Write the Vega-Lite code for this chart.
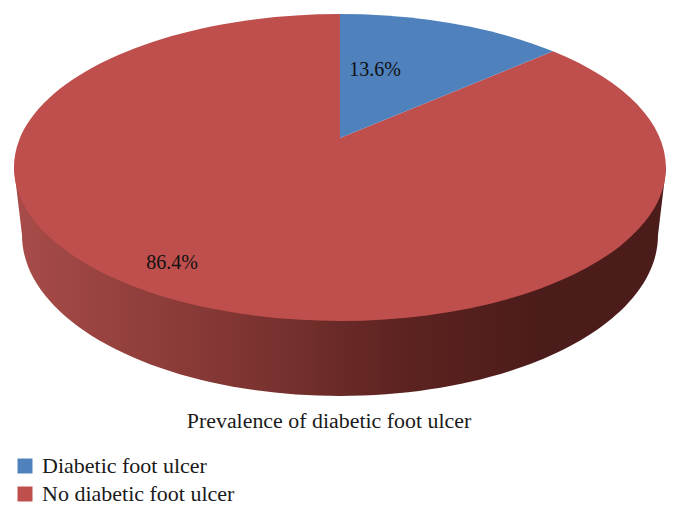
{
"$schema":"https://vega.github.io/schema/vega-lite/v6.json",
"width":680,"height":515,"padding":0,"autosize":{"type":"none"},"background":"white",
"title":{"text":"Prevalence of diabetic foot ulcer","orient":"bottom","anchor":"middle","offset":-104,"dx":-11,"font":"Liberation Serif","fontSize":21.9,"fontWeight":"normal","color":"#1a1a1a"},
"data":{"values":[{"category":"Diabetic foot ulcer","share":0.136},{"category":"No diabetic foot ulcer","share":0.864}]},
"config":{"view":{"stroke":null}},
"layer":[
{"mark":{"type":"point","filled":true,"opacity":1,"size":0,"shape":"square"},
 "encoding":{"color":{"field":"category","type":"nominal","scale":{"domain":["Diabetic foot ulcer","No diabetic foot ulcer"],"range":["#4f81bd","#be4f4d"]},
   "legend":{"orient":"none","legendX":14,"legendY":455,"title":null,"symbolType":"square","symbolSize":225,"labelFont":"Liberation Serif","labelFontSize":22,"labelColor":"#1a1a1a","labelOffset":6,"rowPadding":6,"symbolStrokeWidth":0,"labelLimit":300}}}},
{"transform":[{"filter":"datum.category==='No diabetic foot ulcer'"}],
 "mark":{"type":"point","filled":true,"opacity":1,"size":4000000,"shape":"M-.326 -.0895 L-.318 -.0225 A.318 .161 0 0 0 .318 -.0225 L.326 -.0895 Z",
 "color":{"gradient":"linear","x1":0,"y1":0,"x2":1,"y2":0,"stops":[{"offset":0,"color":"#a84c49"},{"offset":0.35,"color":"#7f3532"},{"offset":0.6,"color":"#5c2320"},{"offset":0.8,"color":"#4c1c1b"},{"offset":1,"color":"#4c1c1b"}]}}},
{"transform":[{"filter":"datum.category==='No diabetic foot ulcer'"}],
 "mark":{"type":"point","filled":true,"opacity":1,"size":4000000,"color":"#be4f4d","shape":"M0 -.1195 L0 -.2435 A.326 .1535 0 1 0 .213 -.2062 Z"}},
{"transform":[{"filter":"datum.category==='Diabetic foot ulcer'"}],
 "mark":{"type":"point","filled":true,"opacity":1,"size":4000000,"color":"#4f81bd","shape":"M0 -.1195 L0 -.2435 A.326 .1535 0 0 1 .213 -.2062 Z"}},
{"transform":[{"filter":"datum.share<0.5"}],"mark":{"type":"text","font":"Liberation Serif","fontSize":20,"color":"#111111","dx":35,"dy":-188,"baseline":"middle"},"encoding":{"text":{"field":"share","type":"quantitative","format":".1%"}}},
{"transform":[{"filter":"datum.share>0.5"}],"mark":{"type":"text","font":"Liberation Serif","fontSize":20,"color":"#111111","dx":-168,"dy":5.5,"baseline":"middle"},"encoding":{"text":{"field":"share","type":"quantitative","format":".1%"}}}
]
}
